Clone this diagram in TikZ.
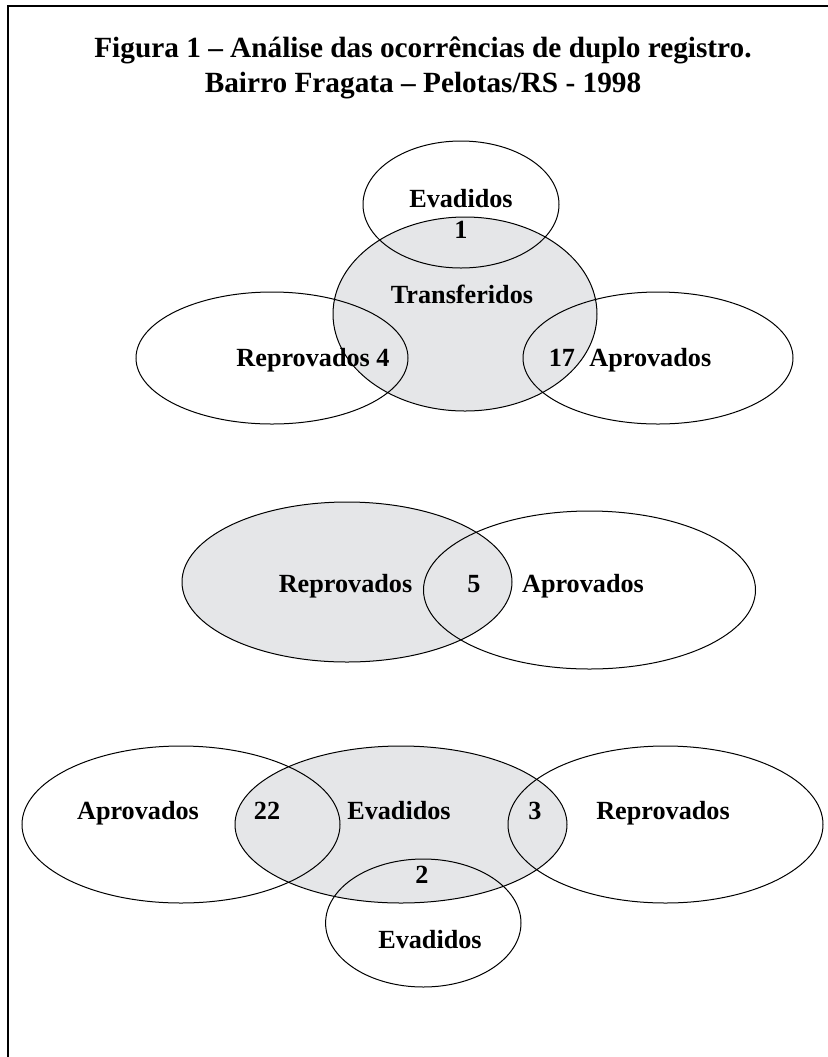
\documentclass[tikz,border=0pt]{standalone}
\usepackage{fontspec}
\setmainfont{Liberation Serif}
\usepackage{tikz}
\definecolor{venngray}{RGB}{229, 230, 232}
\tikzset{venn/.style={line width=0.5pt}}
\tikzset{lbl/.style={font=\fontsize{13.1}{15}\selectfont\bfseries, anchor=base, inner sep=0pt}}
\tikzset{ttl/.style={font=\fontsize{14.65}{17.5}\selectfont\bfseries, anchor=base, inner sep=0pt}}

\begin{document}
\begin{tikzpicture}[x=0.5pt, y=-0.5pt]
\useasboundingbox (0,0) rectangle (828,1057);
\draw[line width=1pt] (828,5.7) -- (8.3,5.7) -- (8.3,1057);
\node[ttl] (title1) at (423,57.5) {Figura 1 – Análise das ocorrências de duplo registro.};
\node[ttl] (title2) at (423,92.5) {Bairro Fragata – Pelotas/RS - 1998};

\begin{scope}
\fill[venngray] (465,314) ellipse (132 and 97);
\draw[venn] (461,204.5) ellipse (98 and 63.5);
\draw[venn] (465,314) ellipse (132 and 97);
\draw[venn] (272,358) ellipse (136 and 66);
\draw[venn] (658,358) ellipse (135 and 66);
\node[lbl] (evadTop) at (461,207.3) {Evadidos};
\node[lbl] (nTop) at (461,238.3) {1};
\node[lbl] (transf) at (462,303) {Transferidos};
\node[lbl] (reprTop) at (313,366.7) {Reprovados 4};
\node[lbl] (aprTop) at (630,366.7) {17\hspace{0.3em} Aprovados};
\end{scope}


\begin{scope}
\fill[venngray] (347,582) ellipse (165 and 80);
\draw[venn] (347,582) ellipse (165 and 80);
\draw[venn] (589.5,590) ellipse (166 and 79);
\node[lbl] (reprMid) at (345.5,592.7) {Reprovados};
\node[lbl] (nMid) at (474,592.7) {5};
\node[lbl] (aprMid) at (583,592.7) {Aprovados};
\end{scope}


\begin{scope}
\fill[venngray] (401,824.5) ellipse (166 and 78.5);
\draw[venn] (181,824.5) ellipse (159 and 78.5);
\draw[venn] (401,824.5) ellipse (166 and 78.5);
\draw[venn] (665.5,824.5) ellipse (157.5 and 78.5);
\draw[venn] (423.3,923) ellipse (97.7 and 64);
\node[lbl] (aprBot) at (138,819) {Aprovados};
\node[lbl] (nLeft) at (267,819) {22};
\node[lbl] (evadMid) at (399,819) {Evadidos};
\node[lbl] (nRight) at (535,819) {3};
\node[lbl] (reprBot) at (663,819) {Reprovados};
\node[lbl] (nBot) at (422,883) {2};
\node[lbl] (evadBot) at (430,948) {Evadidos};
\end{scope}
\end{tikzpicture}
\end{document}
